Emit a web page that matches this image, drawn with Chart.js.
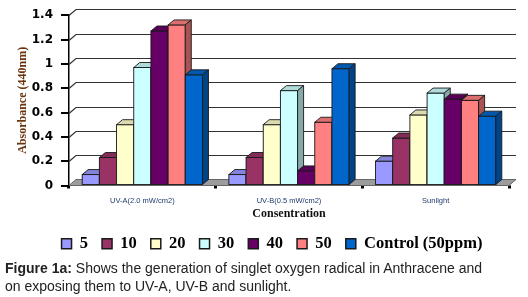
<!DOCTYPE html>
<html><head><meta charset="utf-8">
<script src="https://cdn.jsdelivr.net/npm/chart.js@4"></script>
<style>
html,body{margin:0;padding:0;background:#fff;}
#wrap{position:relative;width:528px;height:297px;overflow:hidden;}
canvas{position:absolute;left:0;top:0;}
#cap{position:absolute;left:5px;top:259px;font:14px "Liberation Sans",Arial,sans-serif;color:#222;line-height:18px;white-space:nowrap;}
</style></head><body>
<div id="wrap"><canvas id="c" width="528" height="297"></canvas>
<div id="cap"><b>Figure 1a:</b> Shows the generation of singlet oxygen radical in Anthracene and<br>on exposing them to UV-A, UV-B and sunlight.</div></div>
<script>
const categories = ["UV-A(2.0 mW/cm2)", "UV-B(0.5 mW/cm2)", "Sunlight"];
const seriesNames = ["5", "10", "20", "30", "40", "50", "Control (50ppm)"];
const s5 = [0.09, 0.09, 0.20];
const s10 = [0.23, 0.23, 0.39];
const s20 = [0.50, 0.50, 0.58];
const s30 = [0.97, 0.78, 0.76];
const s40 = [1.27, 0.12, 0.71];
const s50 = [1.32, 0.52, 0.70];
const sControl = [0.91, 0.96, 0.57];
const yTicks = [0, 0.2, 0.4, 0.6, 0.8, 1, 1.2, 1.4];
const yTickLabels = ["0", "0.2", "0.4", "0.6", "0.8", "1", "1.2", "1.4"];
const colors = ['#9999FF', '#993366', '#FFFFCC', '#CCFFFF', '#660066', '#FF8080', '#0066CC'];

const seriesValues = [s5, s10, s20, s30, s40, s50, sControl];
const D = {bx: 6, by: 5, wx: 7, wy: 6};

function shade(hex, f) {
  const n = parseInt(hex.slice(1), 16);
  const r = Math.round(((n >> 16) & 255) * f), g = Math.round(((n >> 8) & 255) * f), b = Math.round((n & 255) * f);
  return `rgb(${r},${g},${b})`;
}

const threeD = {
  id: 'threeD',
  beforeDatasetsDraw(chart) {
    const {ctx, chartArea: a, scales: {y}} = chart;
    ctx.save();
    const yb = y.getPixelForValue(0);
    ctx.strokeStyle = '#333';
    ctx.lineWidth = 1.2;
    yTicks.forEach(v => {
      if (v === 0) return;
      const p = Math.round(y.getPixelForValue(v)) + 0.5;
      ctx.beginPath();
      ctx.moveTo(a.left, p);
      ctx.lineTo(a.left + D.wx, p - D.wy);
      ctx.lineTo(a.right + D.wx, p - D.wy);
      ctx.stroke();
    });
    ctx.lineWidth = 1;
    ctx.beginPath();
    ctx.moveTo(a.left, yb); ctx.lineTo(a.right, yb);
    ctx.lineTo(a.right + D.wx, yb - D.wy); ctx.lineTo(a.left + D.wx, yb - D.wy);
    ctx.closePath();
    ctx.fillStyle = '#9c9c9c'; ctx.fill();
    ctx.strokeStyle = '#666'; ctx.stroke();
    ctx.restore();
  },
  afterDatasetsDraw(chart) {
    const ctx = chart.ctx;
    chart.data.datasets.forEach((ds, i) => {
      const meta = chart.getDatasetMeta(i);
      const col = colors[i];
      meta.data.forEach(bar => {
        const {x, y, base, width} = bar.getProps(['x', 'y', 'base', 'width'], true);
        const l = x - width / 2, r = x + width / 2;
        ctx.save();
        ctx.lineWidth = 0.9; ctx.strokeStyle = '#1a1a1a';
        ctx.fillStyle = col;
        ctx.fillRect(l, y, width, base - y);
        ctx.strokeRect(l, y, width, base - y);
        ctx.beginPath();
        ctx.moveTo(l, y); ctx.lineTo(l + D.bx, y - D.by); ctx.lineTo(r + D.bx, y - D.by); ctx.lineTo(r, y); ctx.closePath();
        ctx.fillStyle = shade(col, 0.86); ctx.fill(); ctx.stroke();
        ctx.beginPath();
        ctx.moveTo(r, y); ctx.lineTo(r + D.bx, y - D.by); ctx.lineTo(r + D.bx, base - D.by); ctx.lineTo(r, base); ctx.closePath();
        ctx.fillStyle = shade(col, 0.66); ctx.fill(); ctx.stroke();
        ctx.restore();
      });
    });
  }
};

new Chart(document.getElementById('c'), {
  type: 'bar',
  data: {
    labels: categories,
    datasets: seriesNames.map((n, i) => ({
      label: n,
      data: seriesValues[i],
      backgroundColor: colors[i],
      borderColor: '#1a1a1a',
      borderWidth: 1.5,
      yAxisID: 'y',
      categoryPercentage: 0.82,
      barPercentage: 1.0
    }))
  },
  options: {
    responsive: false,
    animation: false,
    devicePixelRatio: 1,
    layout: {padding: {left: 16, right: 0, top: 13, bottom: 35}},
    plugins: {
      tooltip: {enabled: false},
      legend: {
        position: 'bottom',
        labels: {
          boxWidth: 10, boxHeight: 10, padding: 14, color: '#000',
          font: {family: '"Liberation Serif", "Times New Roman", serif', size: 16.5, weight: 'bold'}
        }
      }
    },
    scales: {
      x: {
        afterFit: s => { s.height = 36; },
        grid: {drawOnChartArea: false, drawTicks: true, tickLength: 3, color: '#000', lineWidth: 3},
        border: {display: true, color: '#666', width: 1},
        ticks: {padding: 8, color: '#1F3A6E', font: {family: '"Liberation Sans", Arial, sans-serif', size: 7.5}},
        title: {display: true, text: 'Consentration', color: '#111', padding: {top: 0, bottom: 0},
          font: {family: '"Liberation Serif", "Times New Roman", serif', size: 12, weight: 'bold'}}
      },
      y: {
        position: 'left',
        min: 0, max: 1.4,
        afterFit: s => { s.width = 53; },
        afterBuildTicks: s => { s.ticks = yTicks.map(v => ({value: v})); },
        grid: {drawOnChartArea: false, drawTicks: true, tickLength: 8, color: '#000', lineWidth: 2},
        border: {display: true, color: '#000', width: 1.5},
        ticks: {padding: 8, color: '#000', font: {family: '"DejaVu Sans", sans-serif', size: 12, weight: 'bold'},
          callback: (v, i) => yTickLabels[i]},
        title: {display: true, text: 'Absorbance (440nm)', color: '#6B3410', padding: {top: 0, bottom: 0},
          font: {family: '"Liberation Serif", "Times New Roman", serif', size: 12, weight: 'bold'}}
      },
      y2: {
        position: 'right',
        display: true,
        min: 0, max: 1,
        afterFit: s => { s.width = 19; },
        ticks: {display: false},
        grid: {display: false},
        border: {display: false}
      }
    }
  },
  plugins: [threeD]
});
</script>
</body></html>
